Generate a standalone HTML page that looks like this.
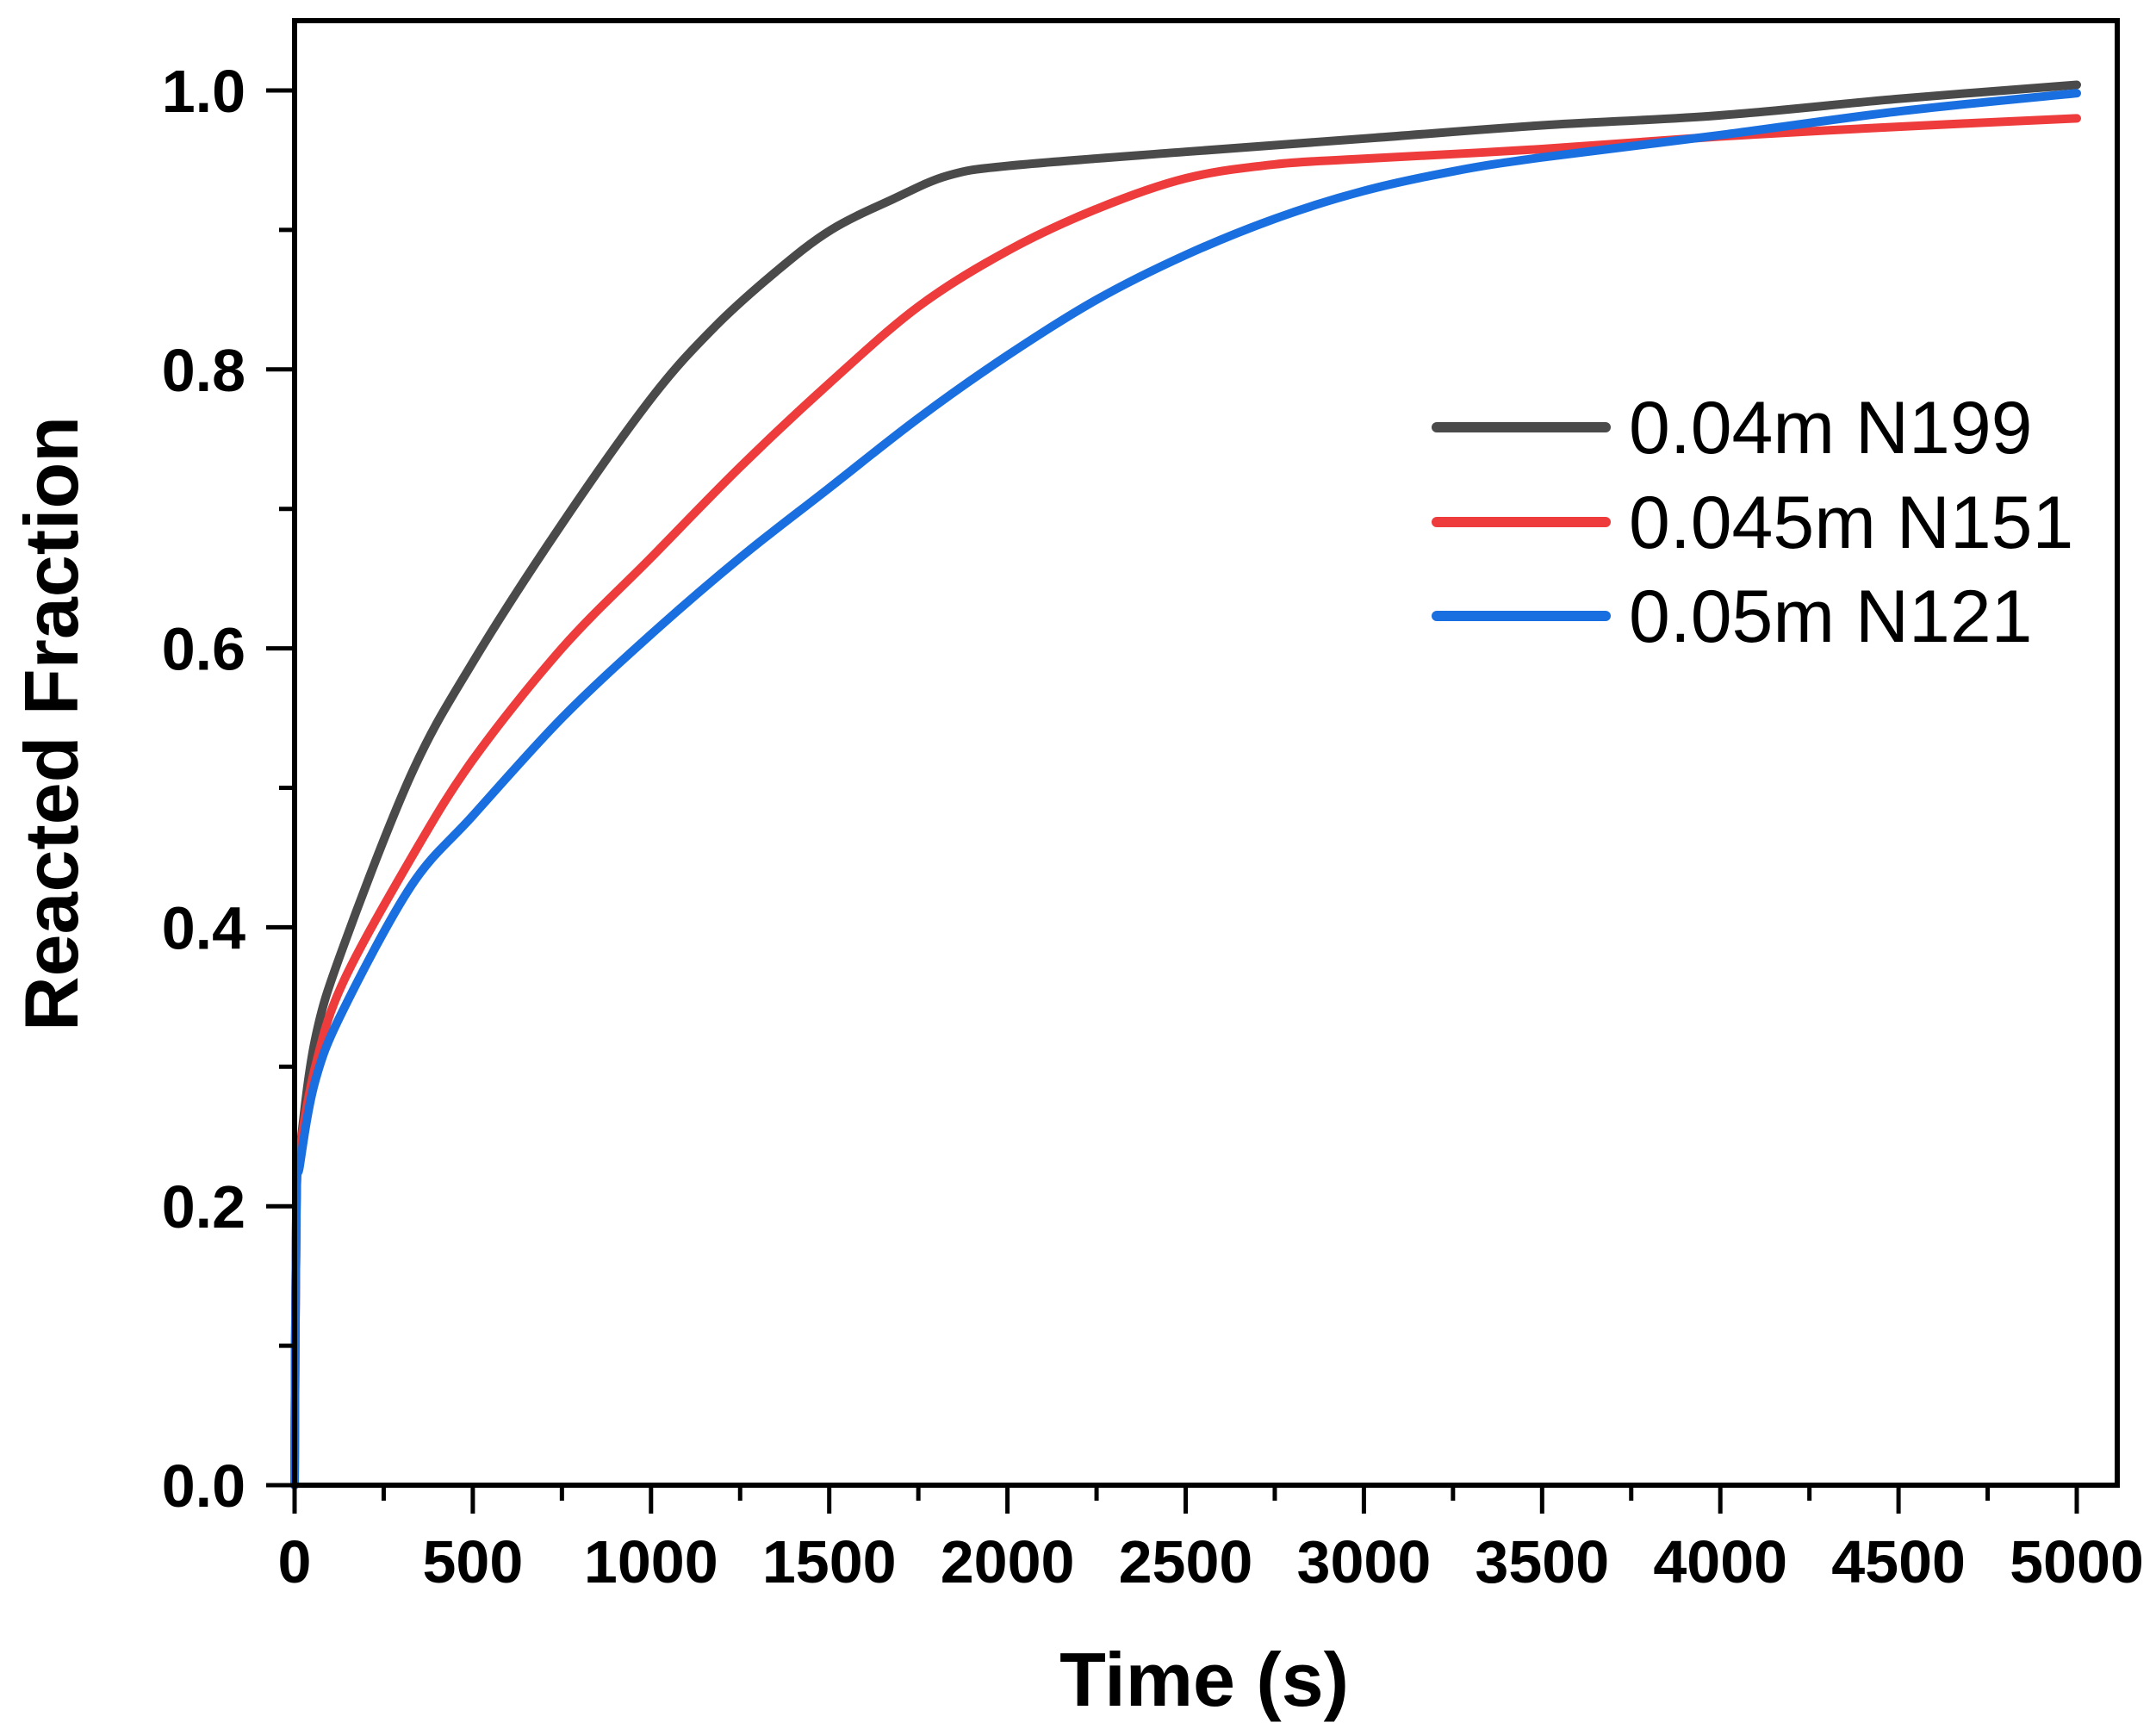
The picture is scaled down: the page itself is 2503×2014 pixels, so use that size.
<!DOCTYPE html>
<html><head><meta charset="utf-8">
<style>
html,body{margin:0;padding:0;background:#fff;}
svg{display:block;font-family:"Liberation Sans",Arial,sans-serif;}
</style></head>
<body>
<svg id="chart" width="2503" height="2014" viewBox="0 0 2503 2014">
  <g id="curves"></g>
  <rect x="342" y="24" width="2116" height="1700" fill="none" stroke="#000" stroke-width="6"/>
  <g id="xticks"></g>
  <g id="yticks"></g>
  <text x="1398" y="1980" text-anchor="middle" font-size="88" font-weight="bold">Time (s)</text>
  <text transform="translate(90,840) rotate(-90)" text-anchor="middle" font-size="88" font-weight="bold">Reacted Fraction</text>
  <g>
    <g>
      <line x1="1668" y1="496" x2="1864" y2="496" stroke="#4a4a4a" stroke-width="12" stroke-linecap="round"/>
      <text x="1891" y="526" font-size="86">0.04m N199</text>
    </g>
    <g>
      <line x1="1668" y1="606" x2="1864" y2="606" stroke="#ee3b3b" stroke-width="12" stroke-linecap="round"/>
      <text x="1891" y="636" font-size="86">0.045m N151</text>
    </g>
    <g>
      <line x1="1668" y1="715" x2="1864" y2="715" stroke="#1a6fe0" stroke-width="12" stroke-linecap="round"/>
      <text x="1891" y="745" font-size="86">0.05m N121</text>
    </g>
  </g>
</svg>
<script>
const timeN199 = [0, 5, 15, 58, 135, 328, 500, 752, 1003, 1177, 1350, 1505, 1678, 1833, 2006, 2500, 3029, 3500, 3993, 4500, 5000];
const fracN199 = [0, 0.20, 0.24, 0.32, 0.385, 0.51, 0.59, 0.69, 0.78, 0.83, 0.87, 0.90, 0.922, 0.939, 0.946, 0.956, 0.966, 0.975, 0.982, 0.994, 1.004];
const timeN151 = [0, 5, 15, 58, 135, 328, 500, 750, 1000, 1250, 1500, 1750, 2000, 2250, 2500, 2750, 3000, 3500, 4000, 4500, 5000];
const fracN151 = [0, 0.20, 0.24, 0.30, 0.36, 0.45, 0.52, 0.60, 0.665, 0.73, 0.79, 0.845, 0.885, 0.915, 0.937, 0.947, 0.951, 0.958, 0.967, 0.974, 0.98];
const timeN121 = [0, 5, 15, 58, 135, 328, 500, 750, 1000, 1250, 1500, 1750, 2000, 2250, 2500, 2750, 3000, 3250, 3500, 4000, 4500, 5000];
const fracN121 = [0, 0.20, 0.23, 0.29, 0.34, 0.43, 0.48, 0.55, 0.61, 0.665, 0.715, 0.765, 0.81, 0.85, 0.882, 0.908, 0.928, 0.942, 0.952, 0.968, 0.985, 0.998];
const xTickLabels = ["0","500","1000","1500","2000","2500","3000","3500","4000","4500","5000"];
const yTickLabels = ["0.0","0.2","0.4","0.6","0.8","1.0"];

const NS = "http://www.w3.org/2000/svg";
const X0 = 342, X1 = 2411, Y0 = 1724, Y1 = 105;
function xs(v){ return X0 + (v/5000)*(X1-X0); }
function ys(v){ return Y0 - v*(Y0-Y1); }

const curves = document.getElementById('curves');
function smoothPath(pts){
  let d = 'M' + pts[0][0].toFixed(1) + ',' + pts[0][1].toFixed(1);
  for(let i=0;i<pts.length-1;i++){
    const p0 = pts[Math.max(0,i-1)], p1 = pts[i], p2 = pts[i+1], p3 = pts[Math.min(pts.length-1,i+2)];
    const c1x = p1[0] + (p2[0]-p0[0])/6, c1y = p1[1] + (p2[1]-p0[1])/6;
    const c2x = p2[0] - (p3[0]-p1[0])/6, c2y = p2[1] - (p3[1]-p1[1])/6;
    d += ' C' + c1x.toFixed(1)+','+c1y.toFixed(1)+' '+c2x.toFixed(1)+','+c2y.toFixed(1)+' '+p2[0].toFixed(1)+','+p2[1].toFixed(1);
  }
  return d;
}
function drawSeries(t, f, color, name){
  const p = document.createElementNS(NS,'path');
  p.setAttribute('d', smoothPath(t.map((v,i)=>[xs(v), ys(f[i])])));
  p.setAttribute('fill','none');
  p.setAttribute('stroke',color);
  p.setAttribute('stroke-width','10');
  p.setAttribute('stroke-linejoin','round');
  p.setAttribute('stroke-linecap','round');
  
  
  curves.appendChild(p);
}
drawSeries(timeN199, fracN199, '#4a4a4a', 'series-n199');
drawSeries(timeN151, fracN151, '#ee3b3b', 'series-n151');
drawSeries(timeN121, fracN121, '#1a6fe0', 'series-n121');

const xg = document.getElementById('xticks');
for(let i=0;i<=20;i++){
  const v = i*250, major = i%2===0;
  const l = document.createElementNS(NS,'line');
  l.setAttribute('x1',xs(v)); l.setAttribute('x2',xs(v));
  l.setAttribute('y1',Y0); l.setAttribute('y2',Y0+(major?33:18));
  l.setAttribute('stroke','#000'); l.setAttribute('stroke-width','5');
  
  
  xg.appendChild(l);
}
xTickLabels.forEach((s,i)=>{
  const t = document.createElementNS(NS,'text');
  t.setAttribute('x',xs(i*500)); t.setAttribute('y',1837);
  t.setAttribute('text-anchor','middle'); t.setAttribute('font-size','70'); t.setAttribute('font-weight','bold');
  t.textContent = s;
  
  
  xg.appendChild(t);
});
const yg = document.getElementById('yticks');
for(let i=0;i<=10;i++){
  const v = i*0.1, major = i%2===0;
  const l = document.createElementNS(NS,'line');
  l.setAttribute('x1',X0); l.setAttribute('x2',X0-(major?33:18));
  l.setAttribute('y1',ys(v)); l.setAttribute('y2',ys(v));
  l.setAttribute('stroke','#000'); l.setAttribute('stroke-width','5');
  
  
  yg.appendChild(l);
}
yTickLabels.forEach((s,i)=>{
  const t = document.createElementNS(NS,'text');
  t.setAttribute('x',285); t.setAttribute('y',ys(i*0.2)+25);
  t.setAttribute('text-anchor','end'); t.setAttribute('font-size','70'); t.setAttribute('font-weight','bold');
  t.textContent = s;
  
  
  yg.appendChild(t);
});
</script>
</body></html>
